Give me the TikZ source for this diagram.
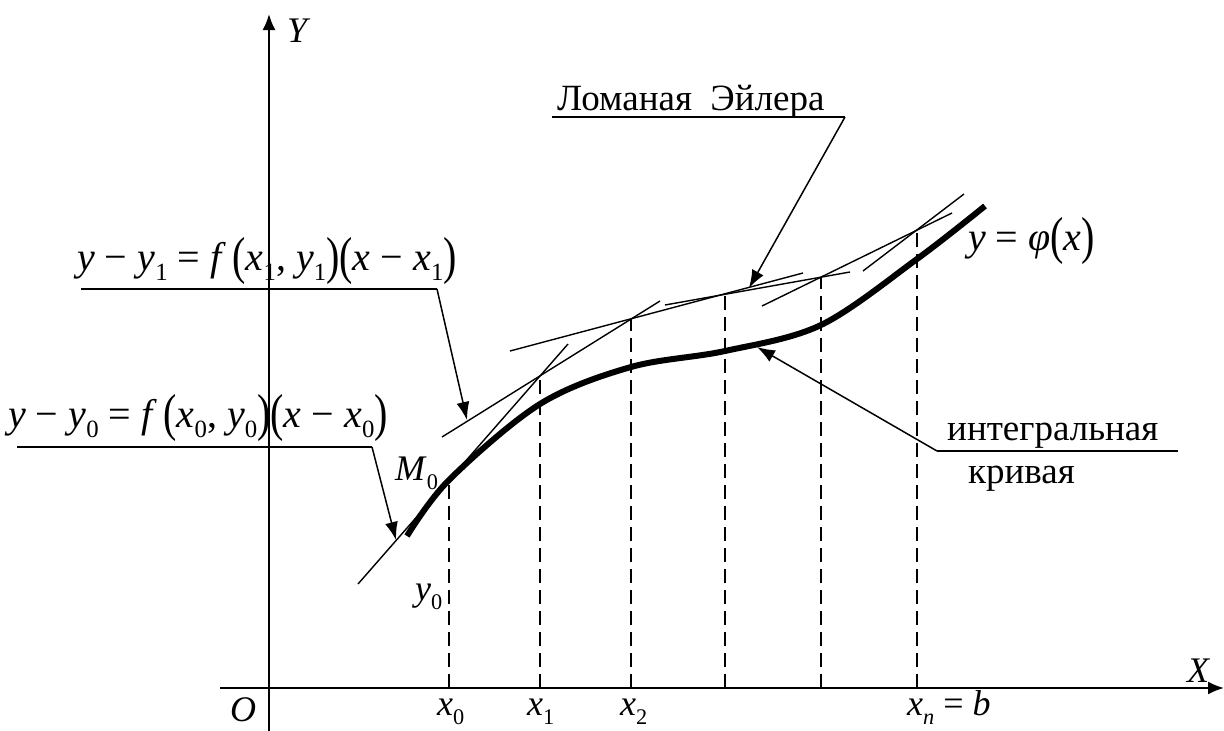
\documentclass[tikz,border=0pt]{standalone}
\usepackage{fontspec}
\setmainfont{Liberation Serif}
\usepackage{graphicx}
\usetikzlibrary{arrows.meta}
\newcommand\mi[1]{\textit{#1}}
\newcommand\lo[1]{\raisebox{-0.25em}{\scalebox{0.62}{#1}}}
\newcommand\bp[1]{\raisebox{-0.08em}{\scalebox{1}[1.3]{#1}}}
\begin{document}
\begin{tikzpicture}[x=1pt,y=-1pt,
  axisline/.style={line width=2pt,-{Latex[length=16pt,width=13pt]}},
  eul/.style={line width=1.4pt},
  intcurve/.style={line width=6pt},
  guide/.style={line width=1.5pt,dash pattern=on 14pt off 7pt},
  lead/.style={line width=1.5pt},
  leadarrow/.style={line width=1.5pt,-{Latex[length=18pt,width=13pt]}},
  lbl/.style={inner sep=0pt,anchor=base west,font=\fontsize{36}{40}\selectfont},
  frm/.style={inner sep=0pt,anchor=base west,font=\fontsize{40}{44}\selectfont},
  ru/.style={inner sep=0pt,anchor=base west,font=\fontsize{37}{42}\selectfont}]
\useasboundingbox (0,0) rectangle (1224,731);
% axes
\coordinate (Ybot) at (269,731);
\coordinate (Ytop) at (269,14);
\coordinate (Xl) at (220,688);
\coordinate (Xr) at (1224,688);
\draw[axisline] (Ybot) -- (Ytop);
\draw[axisline] (Xl) -- (Xr);
% Euler vertices
\coordinate (M0) at (449,480);
\coordinate (P1) at (540,376);
\coordinate (P2) at (631,319);
\coordinate (P3) at (725,294);
\coordinate (P4) at (821,277);
\coordinate (P5) at (917,230);
\coordinate (F0) at (449,688);
\coordinate (F1) at (540,688);
\coordinate (F2) at (631,688);
\coordinate (F3) at (725,688);
\coordinate (F4) at (821,688);
\coordinate (F5) at (917,688);
\draw[guide] (F0) -- (M0);
\foreach \i in {1,2,3,4,5}{\draw[guide] (F\i) -- (P\i);}
% tangent lines
\coordinate (L0a) at (358,584); \coordinate (L0b) at (568,344);
\coordinate (L1a) at (442,437); \coordinate (L1b) at (660,301);
\coordinate (L2a) at (510,351); \coordinate (L2b) at (803,273);
\coordinate (L3a) at (665,305); \coordinate (L3b) at (850,272);
\coordinate (L4a) at (762,306); \coordinate (L4b) at (952,213);
\coordinate (L5a) at (863,271); \coordinate (L5b) at (964,194);
\foreach \i in {0,...,5}{\draw[eul] (L\i a) -- (L\i b);}
% integral curve
\draw[intcurve] plot[smooth,tension=0.55] coordinates {(407,536) (449,480) (540,404) (631,367) (725,351) (821,325) (917,259) (985,206)};
% labels
\node[lbl] (Ylab) at (287,42) {\mi{Y}};
\node[lbl] (Xlab) at (1187,682) {\mi{X}};
\node[lbl] (Olab) at (230,721) {\mi{O}};
\node[lbl] (x0lab) at (437,715) {\mi{x}\lo{0}};
\node[lbl] (x1lab) at (527,715) {\mi{x}\lo{1}};
\node[lbl] (x2lab) at (620,715) {\mi{x}\lo{2}};
\node[lbl] (xnlab) at (907,715) {\mi{x}\lo{\mi{n}} = \mi{b}};
\node[lbl] (y0lab) at (415,600) {\mi{y}\lo{0}};
\node[lbl] (M0lab) at (395,480) {\mi{M}\lo{0}};
\node[frm] (philab) at (968,250) {\mi{y} = \mi{φ}\bp{(}\mi{x}\bp{)}};
\node[frm] (f1) at (77,270) {\mi{y} − \mi{y}\lo{1} = \mi{f}\,\bp{(}\mi{x}\lo{1}, \mi{y}\lo{1}\bp{)}\bp{(}\mi{x} − \mi{x}\lo{1}\bp{)}};
\node[frm] (f0) at (8,427) {\mi{y} − \mi{y}\lo{0} = \mi{f}\,\bp{(}\mi{x}\lo{0}, \mi{y}\lo{0}\bp{)}\bp{(}\mi{x} − \mi{x}\lo{0}\bp{)}};
\node[ru] (euler) at (557,110) {Ломаная\ \ Эйлера};
\node[ru] (integ) at (947,440) {интегральная};
\node[ru] (kriv) at (968,483) {кривая};
% leaders
\coordinate (U1a) at (552,117); \coordinate (U1b) at (845,117); \coordinate (T1) at (749,288);
\draw[lead] (U1a) -- (U1b); \draw[leadarrow] (U1b) -- (T1);
\coordinate (U2a) at (81,289); \coordinate (U2b) at (437,289); \coordinate (T2) at (467,420);
\draw[lead] (U2a) -- (U2b); \draw[leadarrow] (U2b) -- (T2);
\coordinate (U3a) at (17,447); \coordinate (U3b) at (372,447); \coordinate (T3) at (396,540);
\draw[lead] (U3a) -- (U3b); \draw[leadarrow] (U3b) -- (T3);
\coordinate (U4a) at (937,451); \coordinate (U4b) at (1178,451); \coordinate (T4) at (757,347);
\draw[lead] (U4a) -- (U4b); \draw[leadarrow] (U4a) -- (T4);
\end{tikzpicture}
\end{document}
